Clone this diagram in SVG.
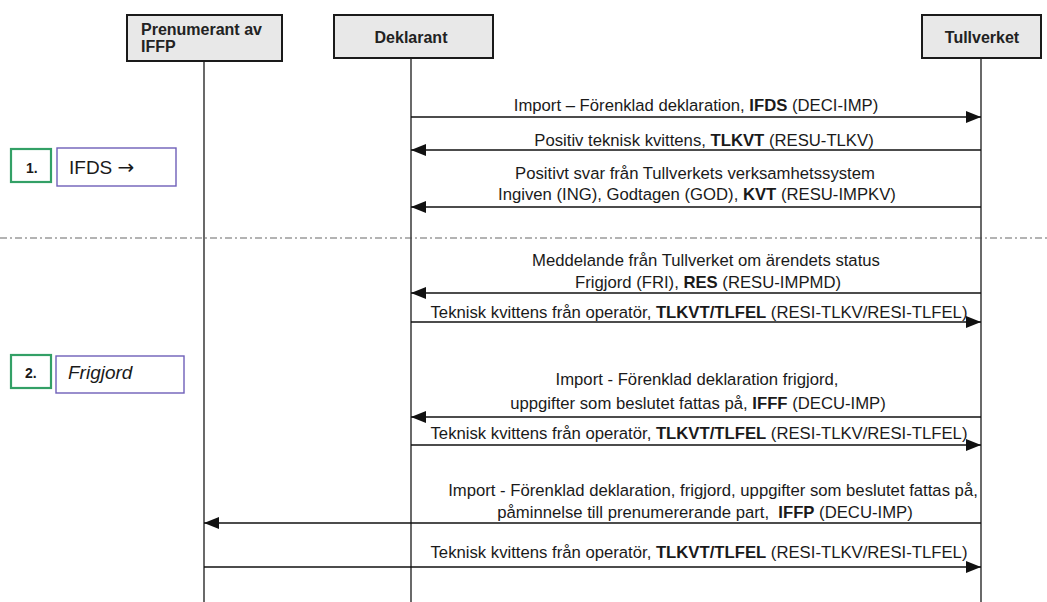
<svg xmlns="http://www.w3.org/2000/svg" width="1047" height="602" viewBox="0 0 1047 602">
<style>
.hdr{fill:#e8e8e8;stroke:#1a1a1a;stroke-width:2}
.ht{font-family:"Liberation Sans",Arial,sans-serif;font-size:16px;font-weight:bold;fill:#222}
.life{stroke:#444;stroke-width:1.6;fill:none}
.msg{stroke:#111;stroke-width:1.3;fill:none}
.t{font-family:"Liberation Sans",Arial,sans-serif;font-size:16.7px;fill:#1a1a1a;text-anchor:middle}
.b{font-weight:bold}
.num{fill:#fff;stroke:#33a066;stroke-width:2.2}
.note{fill:#fff;stroke:#6e5fb8;stroke-width:1.4}
.nt{font-family:"Liberation Sans",Arial,sans-serif;font-size:19px;fill:#1a1a1a}
.nn{font-family:"Liberation Sans",Arial,sans-serif;font-size:14px;font-weight:bold;fill:#1a1a1a}
</style>
<defs>
<marker id="ah" viewBox="0 0 15 12" refX="15" refY="6" markerWidth="15" markerHeight="12" markerUnits="userSpaceOnUse" orient="auto">
<path d="M0,0 L15,6 L0,12 Z" fill="#111"/>
</marker>
</defs>
<rect width="1047" height="602" fill="#fff"/>
<line x1="0" y1="238" x2="1047" y2="238" stroke="#9a9a9a" stroke-width="1.5" stroke-dasharray="7,3,2,3"/>
<g id="lifelines">
<line class="life" x1="204" y1="61" x2="204" y2="602"/>
<line class="life" x1="411" y1="58" x2="411" y2="602"/>
<line class="life" x1="981" y1="58" x2="981" y2="602"/>
</g>
<g id="node-prenumerant">
<rect class="hdr" x="127" y="15" width="155" height="46"/>
<text class="ht" x="141" y="35">Prenumerant av</text>
<text class="ht" x="141" y="52">IFFP</text>
</g>
<g id="node-deklarant">
<rect class="hdr" x="334" y="15" width="159" height="43"/>
<text class="ht" x="411" y="43" text-anchor="middle">Deklarant</text>
</g>
<g id="node-tullverket">
<rect class="hdr" x="922" y="15" width="119" height="43"/>
<text class="ht" x="982" y="43" text-anchor="middle">Tullverket</text>
</g>
<g id="note-1">
<rect class="num" x="11" y="149" width="40" height="33"/>
<text class="nn" x="26" y="173">1.</text>
<rect class="note" x="57" y="148" width="119" height="38"/>
<text class="nt" x="69" y="174">IFDS <tspan font-family="DejaVu Sans" font-size="20px">→</tspan></text>
</g>
<g id="note-2">
<rect class="num" x="11" y="355" width="40" height="33"/>
<text class="nn" x="25" y="378">2.</text>
<rect class="note" x="56" y="356" width="128" height="37"/>
<text class="nt" x="68" y="379" font-style="italic">Frigjord</text>
</g>
<g id="connectors">
<line class="msg" x1="411" y1="117" x2="981" y2="117" marker-end="url(#ah)"/>
<line class="msg" x1="981" y1="150" x2="411" y2="150" marker-end="url(#ah)"/>
<line class="msg" x1="981" y1="207" x2="411" y2="207" marker-end="url(#ah)"/>
<line class="msg" x1="981" y1="293" x2="411" y2="293" marker-end="url(#ah)"/>
<line class="msg" x1="411" y1="322" x2="981" y2="322" marker-end="url(#ah)"/>
<line class="msg" x1="981" y1="417" x2="411" y2="417" marker-end="url(#ah)"/>
<line class="msg" x1="411" y1="445" x2="981" y2="445" marker-end="url(#ah)"/>
<line class="msg" x1="981" y1="523" x2="204" y2="523" marker-end="url(#ah)"/>
<line class="msg" x1="204" y1="567" x2="981" y2="567" marker-end="url(#ah)"/>
</g>
<g id="labels">
<text class="t" x="696" y="111">Import – Förenklad deklaration, <tspan class="b">IFDS</tspan> (DECI-IMP)</text>
<text class="t" x="704" y="146">Positiv teknisk kvittens, <tspan class="b">TLKVT</tspan> (RESU-TLKV)</text>
<text class="t" x="695" y="179">Positivt svar från Tullverkets verksamhetssystem</text>
<text class="t" x="697" y="200">Ingiven (ING), Godtagen (GOD), <tspan class="b">KVT</tspan> (RESU-IMPKV)</text>
<text class="t" x="706" y="266">Meddelande från Tullverket om ärendets status</text>
<text class="t" x="708" y="288">Frigjord (FRI), <tspan class="b">RES</tspan> (RESU-IMPMD)</text>
<text class="t" x="699" y="318">Teknisk kvittens från operatör, <tspan class="b">TLKVT/TLFEL</tspan> (RESI-TLKV/RESI-TLFEL)</text>
<text class="t" x="697" y="385">Import - Förenklad deklaration frigjord,</text>
<text class="t" x="698" y="409">uppgifter som beslutet fattas på, <tspan class="b">IFFF</tspan> (DECU-IMP)</text>
<text class="t" x="699" y="439">Teknisk kvittens från operatör, <tspan class="b">TLKVT/TLFEL</tspan> (RESI-TLKV/RESI-TLFEL)</text>
<text class="t" x="713" y="496">Import - Förenklad deklaration, frigjord, uppgifter som beslutet fattas på,</text>
<text class="t" x="705" y="518">påminnelse till prenumererande part,&#160; <tspan class="b">IFFP</tspan> (DECU-IMP)</text>
<text class="t" x="699" y="558">Teknisk kvittens från operatör, <tspan class="b">TLKVT/TLFEL</tspan> (RESI-TLKV/RESI-TLFEL)</text>
</g>
</svg>
